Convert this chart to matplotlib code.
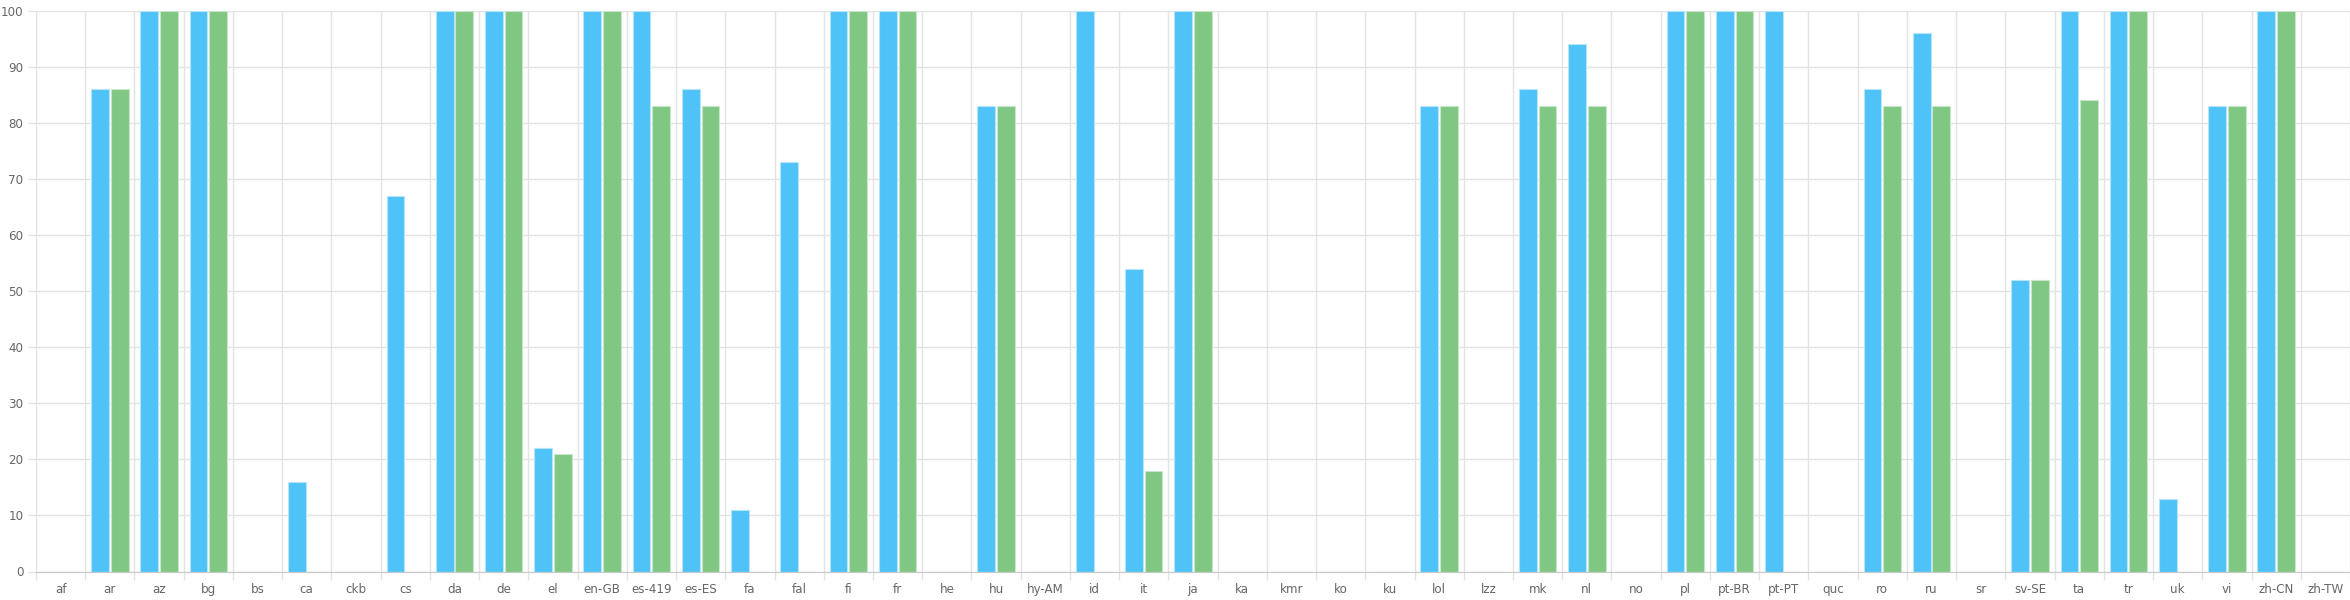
import matplotlib.pyplot as plt
import numpy as np

languages = ['af', 'ar', 'az', 'bg', 'bs', 'ca', 'ckb', 'cs', 'da', 'de', 'el',
             'en-GB', 'es-419', 'es-ES', 'fa', 'fal', 'fi', 'fr', 'he', 'hu',
             'hy-AM', 'id', 'it', 'ja', 'ka', 'kmr', 'ko', 'ku', 'lol', 'lzz',
             'mk', 'nl', 'no', 'pl', 'pt-BR', 'pt-PT', 'quc', 'ro', 'ru', 'sr',
             'sv-SE', 'ta', 'tr', 'uk', 'vi', 'zh-CN', 'zh-TW']

translated = [0, 86, 100, 100, 0, 16, 0, 67, 100, 100, 22,
              100, 100, 86, 11, 73, 100, 100, 0, 83,
              0, 100, 54, 100, 0, 0, 0, 0, 83, 0,
              86, 94, 0, 100, 100, 100, 0, 86, 96, 0,
              52, 100, 100, 13, 83, 100, 0]

approved = [0, 86, 100, 100, 0, 0, 0, 0, 100, 100, 21,
            100, 83, 83, 0, 0, 100, 100, 0, 83,
            0, 0, 18, 100, 0, 0, 0, 0, 83, 0,
            83, 83, 0, 100, 100, 0, 0, 83, 83, 0,
            52, 84, 100, 0, 83, 100, 0]

blue = '#4fc3f7'
green = '#81c784'
grid_c = '#e3e3e3'
text_c = '#666666'

fig = plt.figure(figsize=(23.5, 6), dpi=100)
ax = fig.add_axes([36 / 2350, 1 - 571.5 / 600, 1 - 36 / 2350, (571.5 - 10.5) / 600])

x = np.arange(len(languages))
ax.bar(x - 0.2, translated, width=0.36, color=blue, edgecolor='#b3e5fc',
       linewidth=0.8, zorder=3)
ax.bar(x + 0.2, approved, width=0.36, color=green, edgecolor='#c8e6c9',
       linewidth=0.8, zorder=3)

ax.set_xlim(-0.5, len(languages) - 0.5)
ax.set_ylim(0, 100)

ax.set_xticks(x)
ax.set_xticklabels(languages)
ax.set_xticks(np.arange(len(languages) + 1) - 0.5, minor=True)
ax.set_yticks(range(0, 101, 10))

ax.tick_params(axis='x', which='major', length=0, pad=8, labelsize=8.6, labelcolor=text_c)
ax.tick_params(axis='x', which='minor', length=6, width=1, color=grid_c)
ax.tick_params(axis='y', length=6, width=1, color=grid_c, pad=3, labelsize=8.6,
               labelcolor=text_c)

ax.grid(axis='x', which='minor', color=grid_c, linewidth=1, zorder=0)
ax.grid(axis='y', which='major', color=grid_c, linewidth=1, zorder=0)

for side in ['top', 'right']:
    ax.spines[side].set_visible(False)
ax.spines['left'].set_color(grid_c)
ax.spines['bottom'].set_color('#c8c8c8')
ax.spines['left'].set_zorder(4)
ax.spines['bottom'].set_zorder(4)

fig.savefig('out.png', dpi=100)
